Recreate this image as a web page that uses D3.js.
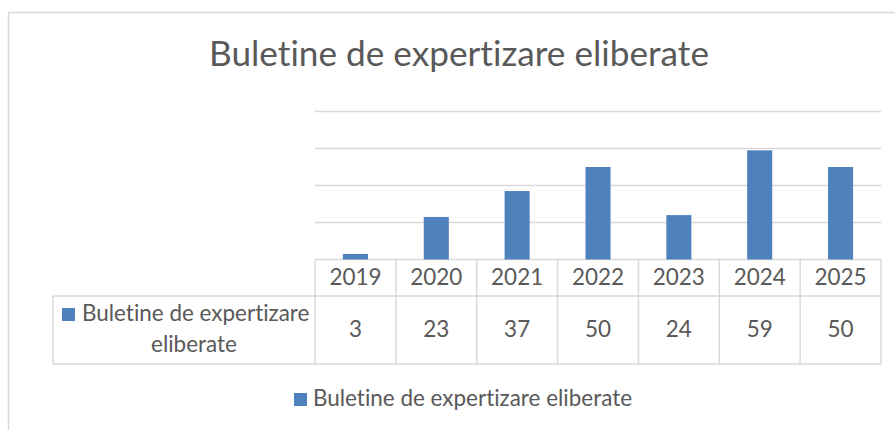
<!DOCTYPE html>
<html>
<head>
<meta charset="utf-8">
<script src="https://cdn.jsdelivr.net/npm/d3@7"></script>
<style>
  body { margin: 0; background: #fff; }
  svg { display: block; font-family: Lato, 'Open Sans', sans-serif; font-variant-ligatures: none; }
</style>
</head>
<body>
<svg id="chart" width="895" height="430"></svg>
<script>
const title = 'Buletine de expertizare eliberate'
const seriesName = 'Buletine de expertizare eliberate'
const years = ['2019', '2020', '2021', '2022', '2023', '2024', '2025']
const values = [3, 23, 37, 50, 24, 59, 50]
const yTicks = [0, 20, 40, 60, 80]

const textColor = '#595959'
const gridColor = '#d9d9d9'
const barColor = '#4f81bd'

const svg = d3.select('#chart')

// outer chart border (right and bottom run off the picture)
svg.append('path')
  .attr('d', 'M8.5,440 V12.5 H900')
  .attr('fill', 'none')
  .attr('stroke', gridColor)
  .attr('stroke-width', 1.5)

// shrink/grow font size until text reaches the wanted width
function fitText (sel, width, start) {
  let size = start
  sel.attr('font-size', size)
  for (let i = 0; i < 4; i++) {
    size = size * width / sel.node().getComputedTextLength()
    sel.attr('font-size', size)
  }
  return size
}

const titleText = svg.append('text')
  .attr('x', 459)
  .attr('y', 66)
  .attr('text-anchor', 'middle')
  .attr('fill', textColor)
  .text(title)
fitText(titleText, 500, 28)

const plot = { left: 315, right: 881, top: 111.5, bottom: 259.5 }

const x = d3.scaleBand()
  .domain(years)
  .range([plot.left, plot.right])
  .paddingInner(0.69)
  .paddingOuter(0.345)

const xCol = d3.scaleBand()
  .domain(years)
  .range([plot.left, plot.right])

const y = d3.scaleLinear()
  .domain([0, 80])
  .range([plot.bottom, plot.top])

// gridlines
svg.append('g')
  .selectAll('line')
  .data(yTicks)
  .join('line')
  .attr('x1', plot.left)
  .attr('x2', plot.right)
  .attr('y1', d => y(d))
  .attr('y2', d => y(d))
  .attr('stroke', gridColor)
  .attr('stroke-width', 1.5)

// bars
svg.append('g')
  .selectAll('rect')
  .data(values)
  .join('rect')
  .attr('x', (d, i) => x(years[i]))
  .attr('y', d => y(d))
  .attr('width', x.bandwidth())
  .attr('height', d => y(0) - y(d))
  .attr('fill', barColor)

// data table
const headerBottom = 296
const rowBottom = 364
const tableLeft = 53
const table = svg.append('g')
  .attr('fill', 'none')
  .attr('stroke', gridColor)
  .attr('stroke-width', 1.5)

table.append('line')
  .attr('x1', tableLeft).attr('x2', plot.right)
  .attr('y1', headerBottom).attr('y2', headerBottom)
table.append('line')
  .attr('x1', tableLeft).attr('x2', plot.right)
  .attr('y1', rowBottom).attr('y2', rowBottom)
table.append('line')
  .attr('x1', tableLeft).attr('x2', tableLeft)
  .attr('y1', headerBottom).attr('y2', rowBottom)
table.selectAll('.col')
  .data(years.concat(['end']))
  .join('line')
  .attr('class', 'col')
  .attr('x1', d => d === 'end' ? plot.right : xCol(d))
  .attr('x2', d => d === 'end' ? plot.right : xCol(d))
  .attr('y1', plot.bottom)
  .attr('y2', rowBottom)

// legend below; its width sets the body font size
const legend = svg.append('g')
legend.append('rect')
  .attr('x', 294).attr('y', 393)
  .attr('width', 13).attr('height', 13)
  .attr('fill', barColor)
const legendText = legend.append('text')
  .attr('x', 313)
  .attr('y', 406)
  .attr('fill', textColor)
  .text(seriesName)
const bodySize = fitText(legendText, 319, 18)

svg.append('g')
  .selectAll('text')
  .data(years)
  .join('text')
  .attr('x', d => xCol(d) + xCol.bandwidth() / 2)
  .attr('y', 284.5)
  .attr('text-anchor', 'middle')
  .attr('font-size', bodySize)
  .attr('fill', textColor)
  .text(d => d)

svg.append('g')
  .selectAll('text')
  .data(values)
  .join('text')
  .attr('x', (d, i) => xCol(years[i]) + xCol.bandwidth() / 2)
  .attr('y', 337)
  .attr('text-anchor', 'middle')
  .attr('font-size', bodySize)
  .attr('fill', textColor)
  .text(d => d)

// series label cell
svg.append('rect')
  .attr('x', 62).attr('y', 308)
  .attr('width', 13).attr('height', 13)
  .attr('fill', barColor)
const words = seriesName.split(' ')
svg.append('text')
  .attr('x', 82)
  .attr('y', 321)
  .attr('font-size', bodySize)
  .attr('fill', textColor)
  .text(words.slice(0, 3).join(' '))
svg.append('text')
  .attr('x', 194)
  .attr('y', 352)
  .attr('text-anchor', 'middle')
  .attr('font-size', bodySize)
  .attr('fill', textColor)
  .text(words.slice(3).join(' '))
</script>
</body>
</html>
